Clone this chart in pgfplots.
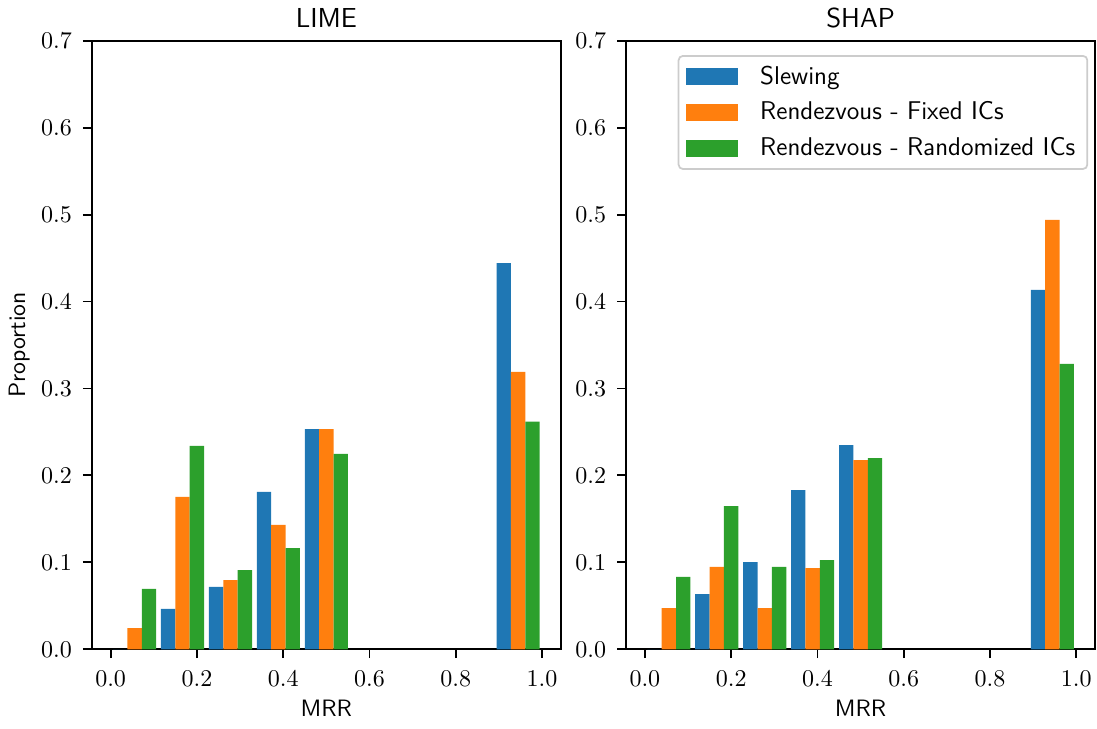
\documentclass[border=0pt]{standalone}
\usepackage{pgfplots}
\usepackage{pgfplotstable}
\pgfplotsset{compat=1.18}

\definecolor{tabblue}{HTML}{1F77B4}
\definecolor{taborange}{HTML}{FF7F0E}
\definecolor{tabgreen}{HTML}{2CA02C}

% bar centres inside the 9 MRR bins, proportion per method
\pgfplotstableread{
x       lime    shap
0.02222 0.0     0.0
0.13333 0.0464  0.0636
0.24444 0.0717  0.1004
0.35556 0.1810  0.1832
0.46667 0.2534  0.2350
0.91111 0.4443  0.4133
}\slewing
\pgfplotstableread{
x       lime    shap
0.05556 0.0245  0.0475
0.16667 0.1752  0.0947
0.27778 0.0797  0.0475
0.38889 0.1430  0.0935
0.50000 0.2534  0.2177
0.94444 0.3190  0.4938
}\fixedic
\pgfplotstableread{
x       lime    shap
0.08889 0.0694  0.0832
0.20000 0.2339  0.1648
0.31111 0.0912  0.0947
0.42222 0.1165  0.1027
0.53333 0.2247  0.2200
0.97778 0.2618  0.3282
}\randic

\begin{document}
\begin{tikzpicture}
\pgfplotsset{
  mrrpanel/.style={
    scale only axis,
    width=213.9pt, height=277.4pt,
    xmin=-0.0439, xmax=1.0439,
    ymin=0, ymax=0.7,
    xtick={0,0.2,0.4,0.6,0.8,1},
    ytick={0,0.1,0.2,0.3,0.4,0.5,0.6,0.7},
    xticklabel style={yshift=-2.5pt, /pgf/number format/.cd,fixed,fixed zerofill,precision=1},
    yticklabel style={xshift=-1.5pt, /pgf/number format/.cd,fixed,fixed zerofill,precision=1},
    tick label style={font=\fontsize{11}{13}\selectfont},
    tick align=outside,
    xtick pos=bottom, ytick pos=left,
    major tick length=4pt,
    tick style={black, line width=0.85pt},
    axis line style={line width=0.85pt},
    ybar, bar shift=0pt, bar width=0.03333,
    xlabel={MRR},
    label style={font=\sffamily\fontsize{10.8}{13}\selectfont},
    xlabel style={at={(axis description cs:0.5,-0.0966)}, anchor=center},
    every axis title shift=0pt,
    title style={font=\sffamily\fontsize{12.5}{14}\selectfont,
      at={(axis description cs:0.5,1.0372)}, anchor=center, yshift=0pt},
    clip=false,
  },
}
\begin{axis}[mrrpanel, title={LIME}, ylabel={Proportion},
  ylabel style={at={(axis description cs:-0.1547,0.5)}, anchor=center, rotate=0}]
\addplot[fill=tabblue, draw=none] table[x=x, y=lime] {\slewing};
\addplot[fill=taborange, draw=none] table[x=x, y=lime] {\fixedic};
\addplot[fill=tabgreen, draw=none] table[x=x, y=lime] {\randic};
\end{axis}

\begin{axis}[mrrpanel, title={SHAP}, at={(243.5pt,0pt)}, anchor=south west,
  legend cell align=left,
  legend image code/.code={%
    \draw[#1, draw=none, sharp corners] (0pt,-3.8pt) rectangle (23.7pt,3.8pt);
    \path (31.7pt,0pt);},
  legend style={at={(rel axis cs:0.985,0.9765)}, anchor=north east,
    draw=black!20, line width=0.8pt, rounded corners=2pt, fill=white,
    font=\sffamily\fontsize{11.7}{14}\selectfont,
    inner xsep=3.5pt, inner ysep=2.5pt, row sep=2.6pt},
  ]
\addplot[fill=tabblue, draw=none] table[x=x, y=shap] {\slewing};
\addplot[fill=taborange, draw=none] table[x=x, y=shap] {\fixedic};
\addplot[fill=tabgreen, draw=none] table[x=x, y=shap] {\randic};
\legend{Slewing, Rendezvous - Fixed ICs, Rendezvous - Randomized ICs}
\end{axis}
\pgfresetboundingbox
\useasboundingbox (-41.8pt,-35.87pt) rectangle (458.2pt,295.95pt);
\end{tikzpicture}
\end{document}
